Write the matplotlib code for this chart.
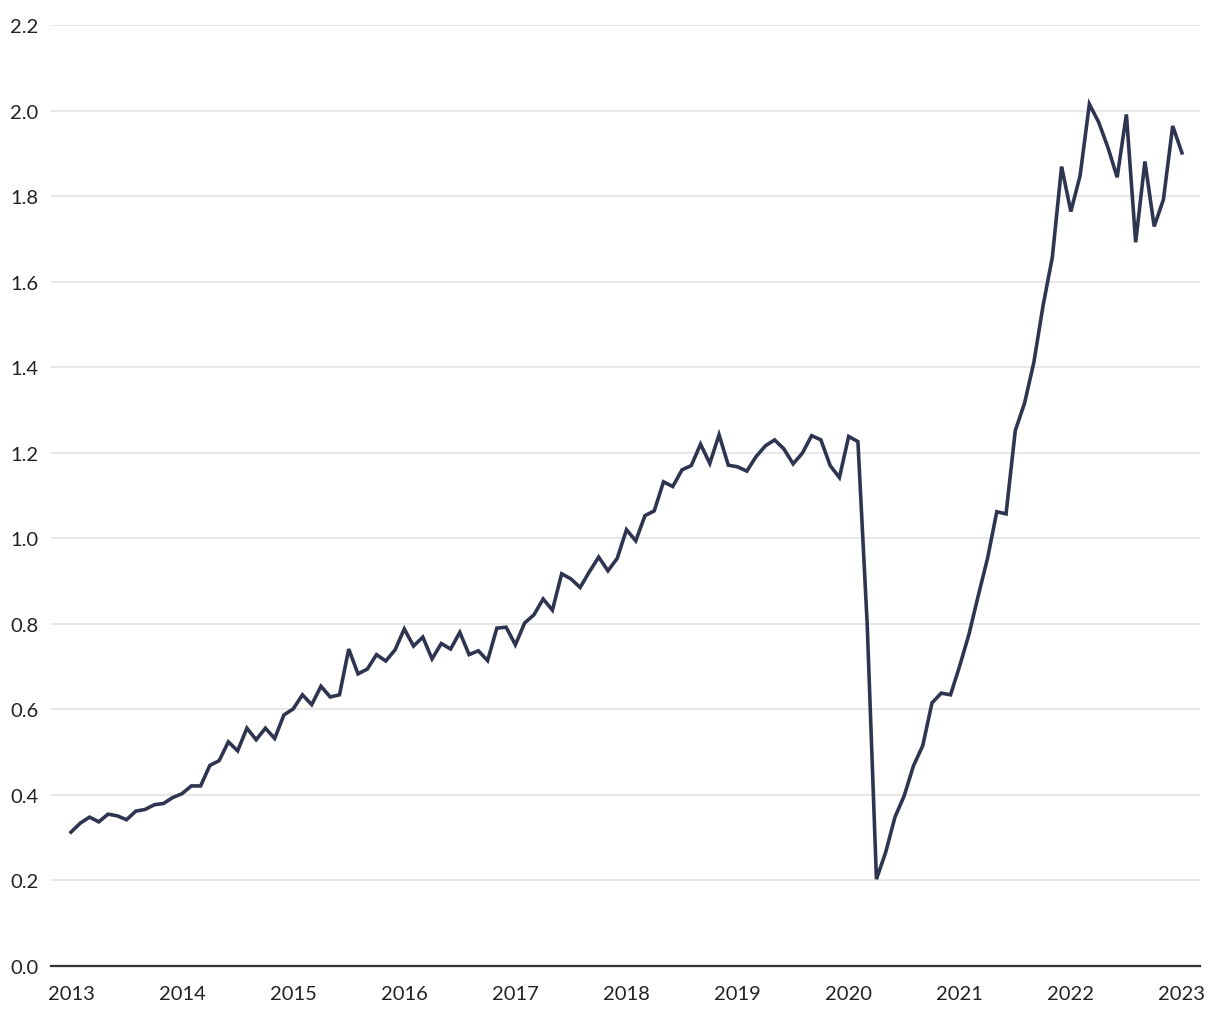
import numpy as np
import matplotlib
matplotlib.use("Agg")
import matplotlib.pyplot as plt

plt.rcParams['font.family'] = ['Lato', 'DejaVu Sans']

# --- datos mensuales, ene 2013 - ene 2023 ---
start_year = 2013
values = [
    0.313, 0.334, 0.348, 0.337, 0.355, 0.351, 0.342, 0.362, 0.366, 0.377, 0.380, 0.394,  # 2013
    0.403, 0.421, 0.421, 0.469, 0.480, 0.524, 0.503, 0.556, 0.529, 0.556, 0.532, 0.587,  # 2014
    0.601, 0.634, 0.611, 0.654, 0.629, 0.634, 0.741, 0.683, 0.694, 0.728, 0.713, 0.739,  # 2015
    0.788, 0.748, 0.769, 0.718, 0.754, 0.741, 0.780, 0.728, 0.737, 0.714, 0.790, 0.792,  # 2016
    0.751, 0.802, 0.821, 0.858, 0.832, 0.917, 0.905, 0.885, 0.922, 0.956, 0.924, 0.953,  # 2017
    1.020, 0.994, 1.053, 1.064, 1.132, 1.121, 1.160, 1.170, 1.220, 1.175, 1.242, 1.171,  # 2018
    1.167, 1.157, 1.191, 1.216, 1.230, 1.209, 1.174, 1.199, 1.240, 1.230, 1.170, 1.142,  # 2019
    1.238, 1.226, 0.800, 0.203, 0.266, 0.348, 0.398, 0.468, 0.515, 0.615, 0.638, 0.634,  # 2020
    0.702, 0.776, 0.866, 0.953, 1.062, 1.057, 1.252, 1.316, 1.411, 1.544, 1.657, 1.869,  # 2021
    1.764, 1.848, 2.015, 1.973, 1.914, 1.844, 1.991, 1.692, 1.881, 1.729, 1.792, 1.964,  # 2022
    1.901,                                                                               # 2023
]
year_ticks = list(range(2013, 2024))
y_ticks = [0.0, 0.2, 0.4, 0.6, 0.8, 1.0, 1.2, 1.4, 1.6, 1.8, 2.0, 2.2]

x = start_year + np.arange(len(values)) / 12

fig = plt.figure(figsize=(12.2, 10.2), dpi=100)
ax = fig.add_axes([51 / 1220, 53 / 1020, 1149 / 1220, 941 / 1020])

ax.plot(x, values, color='#2e3550', linewidth=2.6, solid_joinstyle='miter', zorder=3)

ax.set_xlim(2013 - 2.16 / 12, 2013 + 121.95 / 12)
ax.set_ylim(0, 2.2)
ax.set_xticks(year_ticks)
ax.set_xticklabels([str(y) for y in year_ticks])
ax.set_yticks(y_ticks)
ax.set_yticklabels([f"{v:.1f}" for v in y_ticks])

ax.grid(axis='y', color='#e3e3e3', linewidth=1.2)
ax.set_axisbelow(True)
for s in ['top', 'right', 'left']:
    ax.spines[s].set_visible(False)
ax.spines['bottom'].set_color('#333333')
ax.spines['bottom'].set_linewidth(1.6)
ax.spines['bottom'].set_zorder(4)

ax.tick_params(axis='both', length=0, labelsize=14.5, colors='#222222')
ax.tick_params(axis='y', pad=9)
ax.tick_params(axis='x', pad=14)

fig.savefig('out.png', dpi=100)
